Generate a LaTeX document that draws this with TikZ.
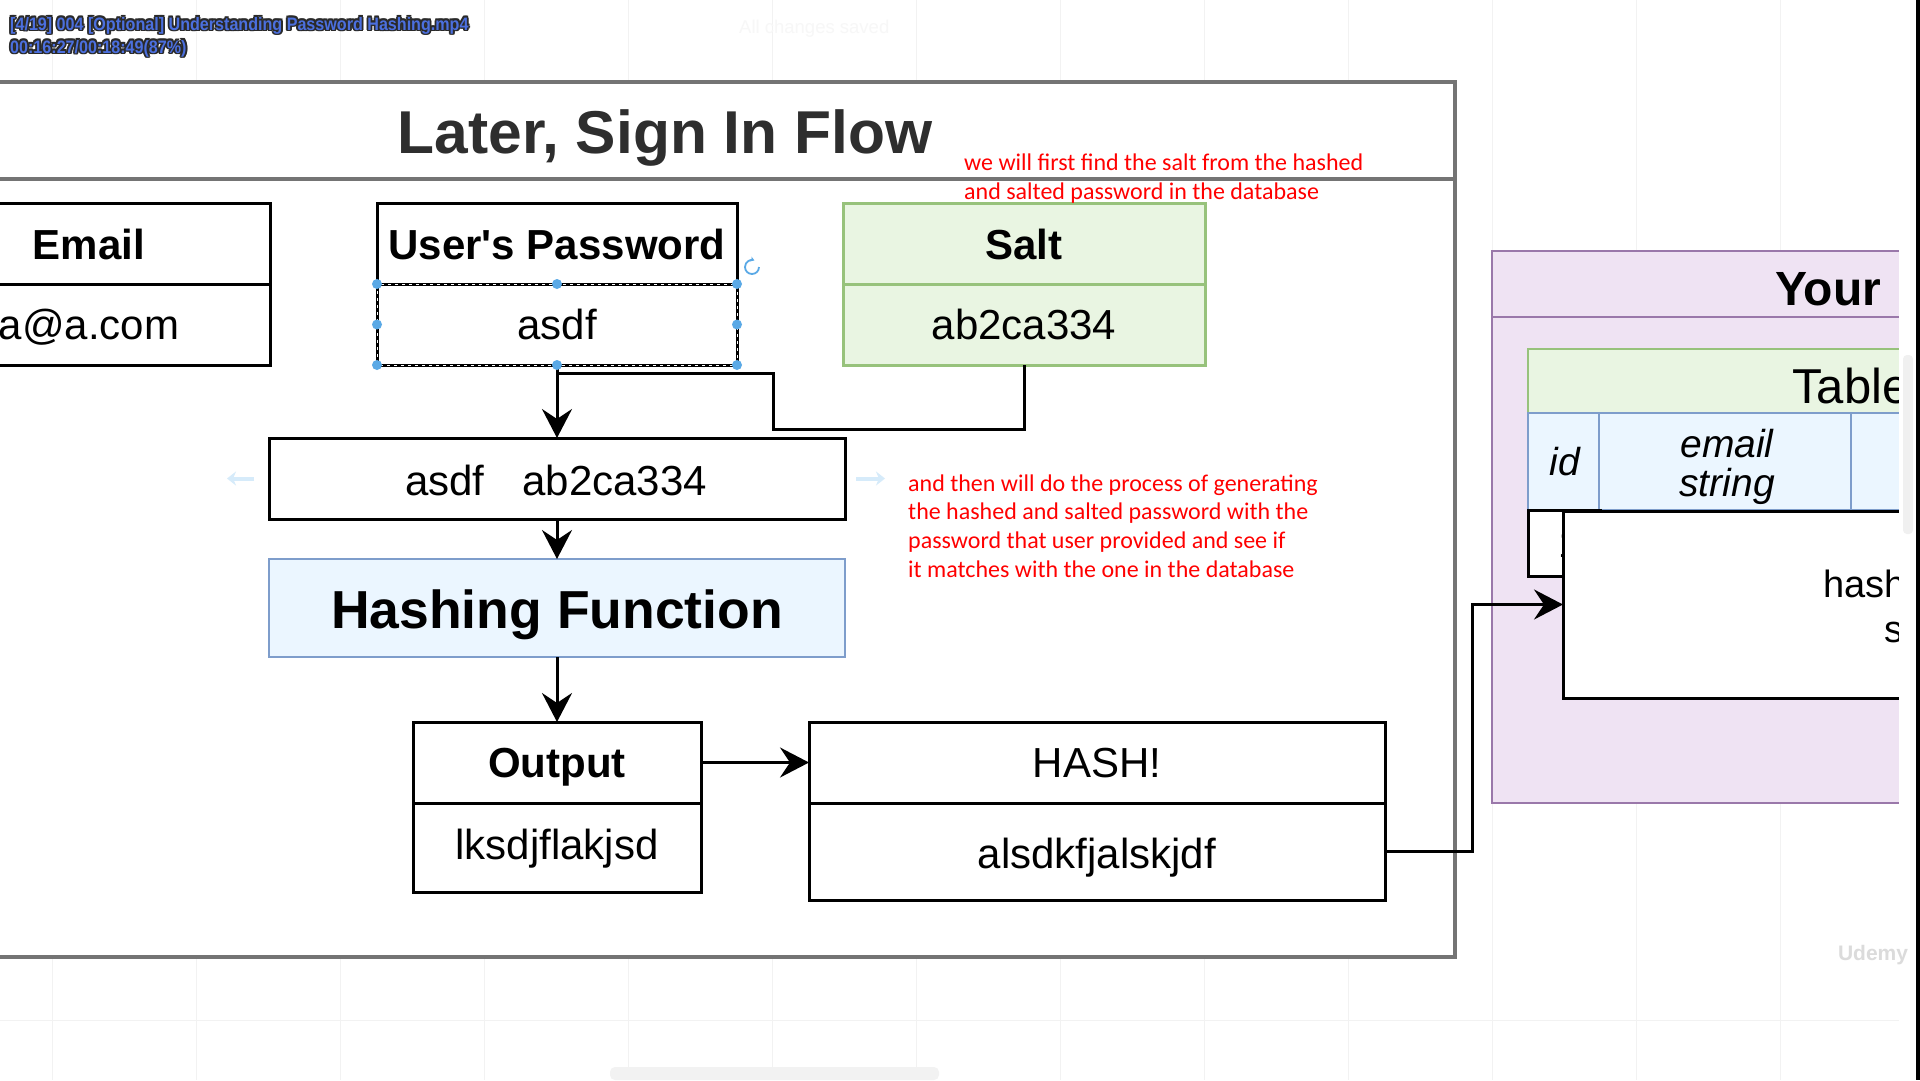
\documentclass[tikz,border=0pt]{standalone}
\usepackage{fontspec}
\setmainfont{Liberation Sans}
\newfontfamily\calfont{Carlito}
\usetikzlibrary{arrows.meta}
\definecolor{framegray}{HTML}{747474}
\definecolor{purpfill}{HTML}{EFE3F3}
\definecolor{purpline}{HTML}{9A78AA}
\definecolor{grfill}{HTML}{E9F5E2}
\definecolor{grline}{HTML}{97C27B}
\definecolor{blfill}{HTML}{EBF6FF}
\definecolor{blline}{HTML}{7E9DCB}
\definecolor{handle}{HTML}{5AA9E6}
\definecolor{hoverblue}{HTML}{D6EBFA}
\definecolor{ovblue}{HTML}{4B6FDE}
\definecolor{ovdark}{HTML}{2A2A2A}
\definecolor{annot}{HTML}{FF0000}
\definecolor{titlegray}{HTML}{2E2E2E}
\definecolor{gridc}{HTML}{F2F2F2}
\newcommand{\fsz}[1]{\fontsize{#1}{#1}\selectfont}
\tikzset{
  box/.style={draw=black, line width=3pt, fill=white, inner sep=0pt, outer sep=0pt},
  gbox/.style={box, draw=grline, fill=grfill},
  bbox/.style={box, draw=blline, fill=blfill, line width=2.5pt},
  txt/.style={anchor=base, inner sep=0pt, font=\fsz{42}},
  btxt/.style={anchor=base, inner sep=0pt, font=\fsz{42}\bfseries},
  arr/.style={line width=3pt, -{Stealth[length=29pt,width=30pt,inset=10pt]}},
  conn/.style={line width=3pt},
  note/.style={anchor=base west, inner sep=0pt, text=annot, font=\calfont\fsz{24}},
  ovt/.style={anchor=base west, inner sep=0pt, font=\fsz{18}\bfseries},
  framest/.style={draw=framegray, line width=3.5pt},
  purp/.style={draw=purpline, fill=purpfill, line width=2.5pt},
  hdl/.style={circle, fill=handle, inner sep=0pt, minimum size=10pt},
}
\begin{document}
\begin{tikzpicture}[x=1pt,y=-1pt]
\useasboundingbox (0,0) rectangle (1920,1080);
\clip (0,0) rectangle (1920,1080);
\fill[white] (0,0) rectangle (1920,1080);
% faint page grid
\foreach \gx in {52,196,340,484,628,772,916,1060,1204,1348,1492,1636,1780}
  \draw[gridc, line width=1pt] (\gx,0) -- (\gx,1080);
\draw[gridc, line width=1pt] (0,1020) -- (1900,1020);

% main frame
\draw[framest, fill=white] (-10,82) rectangle (1455,957);
\draw[framest] (-10,179) -- (1455,179);
\node[anchor=base, inner sep=0pt, text=titlegray, font=\fsz{60.5}\bfseries] (title) at (665,153) {Later, Sign In Flow};

% Email table
\node[box, minimum width=362pt, minimum height=81pt] (emailH) at (89,243.5) {};
\node[box, minimum width=362pt, minimum height=81pt] (emailV) at (89,324.5) {};
\node[btxt] (emailHt) at (89,259) {Email};
\node[txt] (emailVt) at (89,339) {a@a.com};

% User's password
\node[box, minimum width=360pt, minimum height=81pt] (pwH) at (557,243.5) {};
\node[box, minimum width=360pt, minimum height=81pt] (pwV) at (557,324.5) {};
\draw[white, line width=1pt, dash pattern=on 3pt off 4pt] (pwV.north west) rectangle (pwV.south east);
\node[btxt] (pwHt) at (557,259) {User\textquotesingle s Password};
\node[txt] (pwVt) at (557,339) {asdf};

% Salt
\node[gbox, minimum width=362pt, minimum height=81pt] (saltH) at (1024,243.5) {};
\node[gbox, minimum width=362pt, minimum height=81pt] (saltV) at (1024,324.5) {};
\node[btxt] (saltHt) at (1024,259) {Salt};
\node[txt] (saltVt) at (1024,339) {ab2ca334};

% concatenated input
\node[box, minimum width=576pt, minimum height=81pt] (concat) at (557,478.5) {};
\node[txt] (concatt) at (556,495) {asdf\hspace{38pt}ab2ca334};

% hashing function
\node[bbox, minimum width=576pt, minimum height=98pt] (hashfn) at (557,608) {};
\node[anchor=base, inner sep=0pt, font=\fsz{53.5}\bfseries] (hashfnt) at (557,628) {Hashing Function};

% Output
\node[box, minimum width=288pt, minimum height=81pt] (outH) at (557,762.5) {};
\node[box, minimum width=288pt, minimum height=89pt] (outV) at (557,847.5) {};
\node[btxt] (outHt) at (557,777) {Output};
\node[txt] (outVt) at (557,859) {lksdjflakjsd};

% HASH!
\node[box, minimum width=576pt, minimum height=81pt] (hashH) at (1097,762.5) {};
\node[box, minimum width=576pt, minimum height=97pt] (hashV) at (1097,851.5) {};
\node[txt] (hashHt) at (1097,777) {HASH!};
\node[txt] (hashVt) at (1097,868) {alsdkfjalskjdf};

% connectors
\coordinate (s1) at (773,429);
\coordinate (s2) at (557,373);
\draw[conn] (saltV.south) |- (s1) |- (s2);
\draw[arr] (pwV.south) -- (concat.north);
\draw[arr] (concat.south) -- (hashfn.north);
\draw[arr] (hashfn.south) -- (outH.north);
\draw[arr] (outH.east) -- (hashH.west);

% selection handles
\foreach \a in {north west,north,north east,west,east,south west,south,south east}
  \node[hdl] (h-\a) at (pwV.\a) {};
\draw[handle, line width=1.8pt, -{Stealth[length=4pt,width=5pt]}] (759,267) arc[start angle=0, end angle=290, radius=7];
% hover arrows
\draw[hoverblue, line width=4pt, -{Stealth[length=9pt,width=14pt]}] ([xshift=-15pt]concat.west) -- ([xshift=-42pt]concat.west);
\draw[hoverblue, line width=4pt, -{Stealth[length=9pt,width=14pt]}] ([xshift=11pt]concat.east) -- ([xshift=40pt]concat.east);

% annotations
\node[note] (n1a) at (964,170) {we will first find the salt from the hashed};
\node[note] (n1b) at (964,199) {and salted password in the database};
\node[note] (n2a) at (908,491) {and then will do the process of generating};
\node[note] (n2b) at (908,519) {the hashed and salted password with the};
\node[note] (n2c) at (908,548) {password that user provided and see if};
\node[note] (n2d) at (908,577) {it matches with the one in the database};

% database (clipped)
\begin{scope}
\clip (1470,230) rectangle (1899,830);
\draw[purp] (1492,251) rectangle (2050,803);
\draw[draw=purpline, line width=2.5pt] (1492,317) -- (2050,317);
\node[anchor=base west, inner sep=0pt, font=\fsz{48}\bfseries] (dbt) at (1775,305) {Your};
\draw[draw=grline, fill=grfill, line width=2.5pt] (1528,349) rectangle (2050,413);
\node[anchor=base west, inner sep=0pt, font=\fsz{49}] (tbt) at (1792,403) {Table};
\draw[draw=blline, fill=blfill, line width=2.5pt] (1528,413) rectangle (1599,510);
\draw[draw=blline, fill=blfill, line width=2.5pt] (1599,413) rectangle (1851,510);
\draw[draw=blline, fill=blfill, line width=2.5pt] (1851,413) rectangle (2050,510);
\node[anchor=base, inner sep=0pt, font=\fsz{39}\itshape] (idt) at (1565,475) {id};
\node[anchor=base, inner sep=0pt, font=\fsz{39}\itshape] (emt) at (1727,457) {email};
\node[anchor=base, inner sep=0pt, font=\fsz{39}\itshape] (stt) at (1727,496) {string};
\draw[box] (1528,510) rectangle (1600,576);
\node[anchor=base, inner sep=0pt, font=\fsz{39}] (onet) at (1569,557) {1};
\node[box, anchor=north west, minimum width=500pt, minimum height=187pt] (bigbox) at (1563,511) {};
\node[anchor=base west, inner sep=0pt, font=\fsz{38}] (hsh) at (1823,597) {hash};
\node[anchor=base west, inner sep=0pt, font=\fsz{38}] (hss) at (1884,642) {s};
\end{scope}
\draw[arr] (hashV.east) -- ++(87,0) |- (bigbox.west);

% right edge UI
\fill[white] (1899,0) rectangle (1916,1080);
\fill[black!6, rounded corners=4pt] (1903,355) rectangle (1913,534);
\fill[black] (1916,0) rectangle (1920,1080);
\fill[black!5, rounded corners=5pt] (610,1067) rectangle (939,1080);
\node[anchor=center, inner sep=0pt, text=black!14, font=\fsz{21}\bfseries] (udemy) at (1873,955) {Udemy};
\node[anchor=base west, inner sep=0pt, text=black!3, font=\fsz{18.5}] (saved) at (739,33) {All changes saved};

% video overlay text
\foreach \dx/\dy [count=\k] in {-1.8/0,1.8/0,0/-1.8,0/1.8,-1.3/-1.3,1.3/1.3,-1.3/1.3,1.3/-1.3} {
  \node[ovt, text=ovdark] (ovA\k) at (10+\dx,30+\dy) {\scalebox{0.895}[1]{[4/19] 004 [Optional] Understanding Password Hashing.mp4}};
  \node[ovt, text=ovdark] (ovB\k) at (10+\dx,53+\dy) {\scalebox{0.895}[1]{00:16:27/00:18:49(87\%)}};
}
\node[ovt, text=ovblue] (ovA) at (10,30) {\scalebox{0.895}[1]{[4/19] 004 [Optional] Understanding Password Hashing.mp4}};
\node[ovt, text=ovblue] (ovB) at (10,53) {\scalebox{0.895}[1]{00:16:27/00:18:49(87\%)}};
\end{tikzpicture}
\end{document}
